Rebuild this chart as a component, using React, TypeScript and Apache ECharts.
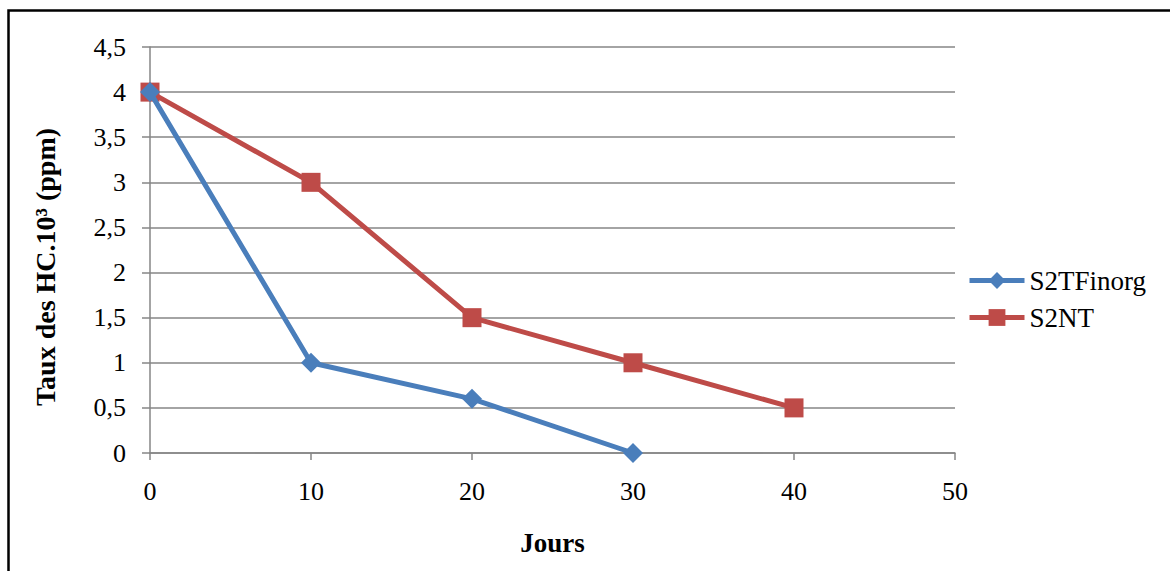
import React, { useEffect, useRef } from "react";
import * as echarts from "echarts";

// Days of measurement and hydrocarbon levels (HC x 10^3 ppm)
const jours = [0, 10, 20, 30, 40];
const s2tfinorg = [4, 1, 0.6, 0];
const s2nt = [4, 3, 1.5, 1, 0.5];
const seriesNames = ["S2TFinorg", "S2NT"];
const yTitle = "Taux des HC.10³ (ppm)";
const xTitle = "Jours";

const FONT = "Times New Roman, Liberation Serif, serif";
const GRID_COLOR = "#868686";
const BLUE = "#4A7EBB";
const RED = "#BE4B48";

export default function App() {
  const ref = useRef<HTMLDivElement>(null);

  useEffect(() => {
    if (!ref.current) return;
    const chart = echarts.init(ref.current, undefined, { renderer: "svg" });
    const pairs = (vals: number[]) => vals.map((v, i) => [jours[i], v]);

    chart.setOption({
      animation: false,
      backgroundColor: "#ffffff",
      textStyle: { fontFamily: FONT, color: "#000" },
      graphic: [
        {
          type: "rect",
          shape: { x: 8.5, y: 10.5, width: 1300, height: 700 },
          style: { fill: "none", stroke: "#000", lineWidth: 2.5 },
          silent: true,
        },
        {
          type: "text",
          x: 45,
          y: 267,
          rotation: Math.PI / 2,
          style: {
            text: yTitle,
            fontFamily: FONT,
            fontSize: 28,
            fontWeight: "bold",
            fill: "#000",
            align: "center",
            verticalAlign: "middle",
          },
          silent: true,
        },
      ],
      grid: { left: 150, top: 47, width: 805, height: 406, containLabel: false },
      xAxis: {
        type: "value",
        min: 0,
        max: 50,
        interval: 10,
        name: xTitle,
        nameLocation: "middle",
        nameGap: 76,
        nameTextStyle: { fontFamily: FONT, fontSize: 27, fontWeight: "bold", color: "#000" },
        axisLine: { show: true, lineStyle: { color: GRID_COLOR, width: 1.5 } },
        axisTick: { show: true, length: 7, lineStyle: { color: GRID_COLOR, width: 1.5 } },
        axisLabel: { fontFamily: FONT, fontSize: 26, color: "#000", margin: 25 },
        splitLine: { show: false },
      },
      yAxis: {
        type: "value",
        min: 0,
        max: 4.5,
        interval: 0.5,
        axisLine: { show: true, lineStyle: { color: GRID_COLOR, width: 1.5 } },
        axisTick: { show: true, length: 8, lineStyle: { color: GRID_COLOR, width: 1.5 } },
        axisLabel: {
          fontFamily: FONT,
          fontSize: 26,
          color: "#000",
          margin: 24,
          formatter: (v: number) => String(v).replace(".", ","),
        },
        splitLine: { show: true, lineStyle: { color: GRID_COLOR, width: 1.5 } },
      },
      legend: {
        orient: "vertical",
        left: 967,
        top: 267,
        padding: 0,
        itemWidth: 55,
        itemHeight: 21,
        itemGap: 10,
        lineStyle: { width: 5 },
        textStyle: { fontFamily: FONT, fontSize: 27, color: "#000" },
        data: seriesNames,
      },
      series: [
        {
          name: seriesNames[0],
          type: "line",
          data: pairs(s2tfinorg),
          symbol: "diamond",
          symbolSize: 20,
          lineStyle: { color: BLUE, width: 5 },
          itemStyle: { color: BLUE },
          z: 3,
        },
        {
          name: seriesNames[1],
          type: "line",
          data: pairs(s2nt),
          symbol: "rect",
          symbolSize: 19,
          lineStyle: { color: RED, width: 5 },
          itemStyle: { color: RED },
          z: 2,
        },
      ],
    });

    return () => chart.dispose();
  }, []);

  return (
    <div
      ref={ref}
      style={{ position: "absolute", left: 0, top: 0, width: 1170, height: 571 }}
    />
  );
}
